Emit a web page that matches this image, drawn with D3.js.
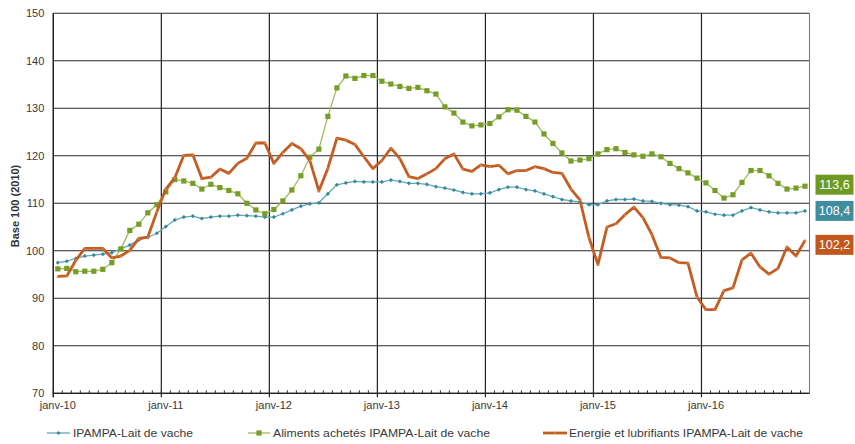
<!DOCTYPE html>
<html>
<head>
<meta charset="utf-8">
<script src="https://cdn.jsdelivr.net/npm/d3@7"></script>
<style>
  html, body { margin: 0; padding: 0; background: #fff; }
  svg { display: block; font-family: "Liberation Sans", Arial, sans-serif; }
</style>
</head>
<body>
<svg id="chart" width="855" height="444"></svg>
<script>
// Monthly categories, janv-10 .. déc-16
const years = ['10', '11', '12', '13', '14', '15', '16'];
const monthNames = ['janv', 'févr', 'mars', 'avr', 'mai', 'juin', 'juil', 'août', 'sept', 'oct', 'nov', 'déc'];
const months = years.flatMap(y => monthNames.map(m => `${m}-${y}`));
const xTickLabels = years.map(y => `janv-${y}`);
const yTicks = [70, 80, 90, 100, 110, 120, 130, 140, 150];

// IPAMPA-Lait de vache (base 100 = 2010)
const ipampa = [
  97.5, 97.8, 98.4, 98.9, 99.1, 99.3, 99.6, 100.4, 101.2, 102.3, 102.8, 103.7,
  105.1, 106.5, 107.1, 107.3, 106.8, 107.1, 107.3, 107.3, 107.5, 107.4, 107.3, 107.1,
  107.1, 107.8, 108.6, 109.4, 109.9, 110.1, 112.0, 113.9, 114.3, 114.6, 114.5, 114.5,
  114.5, 114.9, 114.6, 114.2, 114.2, 114.0, 113.5, 113.2, 112.8, 112.3, 112.0, 112.0,
  112.2, 112.9, 113.4, 113.4, 112.9, 112.6, 112.0, 111.4, 110.8, 110.5, 110.3, 109.7,
  109.7, 110.5, 110.8, 110.8, 110.9, 110.5, 110.4, 110.0, 109.7, 109.6, 109.3, 108.4,
  108.2, 107.7, 107.5, 107.5, 108.4, 109.1, 108.6, 108.2, 108.0, 108.0, 108.0, 108.4
];

// Aliments achetés IPAMPA-Lait de vache
const aliments = [
  96.2, 96.3, 95.6, 95.7, 95.7, 96.1, 97.5, 100.4, 104.3, 105.6, 108.0, 109.7,
  112.4, 115.0, 114.7, 114.2, 113.0, 114.0, 113.3, 112.7, 112.0, 110.0, 108.6, 107.8,
  108.7, 110.5, 112.8, 115.8, 119.7, 121.4, 128.3, 134.3, 136.8, 136.3, 136.9, 136.9,
  135.7, 135.1, 134.6, 134.2, 134.4, 133.7, 133.0, 130.3, 129.0, 127.1, 126.3, 126.5,
  126.8, 128.2, 129.7, 129.6, 128.3, 127.1, 124.6, 122.6, 120.6, 118.9, 119.1, 119.4,
  120.4, 121.3, 121.5, 120.7, 120.2, 119.9, 120.4, 119.8, 118.4, 117.3, 116.4, 115.3,
  114.3, 112.7, 111.1, 111.8, 114.4, 116.9, 116.9, 115.8, 114.2, 113.0, 113.2, 113.6
];

// Energie et lubrifiants IPAMPA-Lait de vache
const energie = [
  94.6, 94.7, 98.0, 100.5, 100.5, 100.5, 98.5, 98.9, 100.1, 102.6, 102.9, 108.2,
  113.0, 115.4, 120.1, 120.2, 115.2, 115.5, 117.2, 116.3, 118.4, 119.5, 122.7, 122.7,
  118.4, 120.7, 122.6, 121.5, 119.0, 112.6, 117.4, 123.7, 123.3, 122.4, 119.8, 117.3,
  119.0, 121.6, 119.4, 115.6, 115.2, 116.2, 117.3, 119.4, 120.4, 117.2, 116.7, 118.1,
  117.7, 118.0, 116.2, 116.9, 116.9, 117.7, 117.3, 116.5, 116.3, 113.0, 110.7, 102.8,
  97.1, 105.0, 105.7, 107.6, 109.2, 107.0, 103.4, 98.6, 98.5, 97.5, 97.4, 90.3,
  87.6, 87.6, 91.6, 92.2, 98.1, 99.5, 96.6, 95.1, 96.3, 100.8, 98.9, 102.2
];

const seriesNames = [
  'IPAMPA-Lait de vache',
  'Aliments achetés IPAMPA-Lait de vache',
  'Energie et lubrifiants IPAMPA-Lait de vache'
];

const series = [
  { name: seriesNames[0], values: ipampa,   line: '#62a9bb', mark: '#3b8899', width: 1.3, marker: 'diamond',  size: 4.2, box: '#3f8d9f' },
  { name: seriesNames[1], values: aliments, line: '#9dbb5f', mark: '#779d27', width: 1.3, marker: 'square',   size: 5.2, box: '#6f9a22' },
  { name: seriesNames[2], values: energie,  line: '#c45d22', mark: '#d77d44', width: 2.8, marker: 'triangle', size: 3.0, box: '#c2571d' }
];

const svg = d3.select('#chart');
const plotLeft = 53.3, plotRight = 809.5, plotTop = 13.3, plotBottom = 393.3;

const x = d3.scaleBand().domain(months).range([plotLeft, plotRight]).padding(0);
const y = d3.scaleLinear().domain([70, 150]).range([plotBottom, plotTop]);
const cx = m => x(m) + x.bandwidth() / 2;

// horizontal gridlines
svg.append('g').selectAll('line').data(yTicks).join('line')
  .attr('x1', plotLeft).attr('x2', plotRight)
  .attr('y1', d => y(d)).attr('y2', d => y(d))
  .attr('stroke', '#2a2a2a').attr('stroke-width', 1.1);

// vertical gridlines at each year start, extending slightly below the axis
svg.append('g').selectAll('line').data(xTickLabels).join('line')
  .attr('x1', d => x(d)).attr('x2', d => x(d))
  .attr('y1', plotTop).attr('y2', plotBottom + 4)
  .attr('stroke', '#222').attr('stroke-width', 1.2);

// right border
svg.append('line').attr('x1', plotRight).attr('x2', plotRight).attr('y1', plotTop).attr('y2', plotBottom)
  .attr('stroke', '#777').attr('stroke-width', 1);

// monthly minor ticks on the category axis
svg.append('g').selectAll('line').data(months).join('line')
  .attr('x1', d => x(d)).attr('x2', d => x(d))
  .attr('y1', plotBottom - 3).attr('y2', plotBottom)
  .attr('stroke', '#333').attr('stroke-width', 1);

// axis lines
svg.append('line').attr('x1', plotLeft).attr('x2', plotLeft).attr('y1', plotTop).attr('y2', plotBottom + 4)
  .attr('stroke', '#222').attr('stroke-width', 1.2);
svg.append('line').attr('x1', plotLeft).attr('x2', plotRight).attr('y1', plotBottom).attr('y2', plotBottom)
  .attr('stroke', '#222').attr('stroke-width', 1.2);

// axis labels
const yAxis = svg.append('g').attr('transform', `translate(${plotLeft},0)`)
  .call(d3.axisLeft(y).tickValues(yTicks).tickSize(0).tickPadding(9).tickFormat(d3.format('d')));
yAxis.select('.domain').remove();
yAxis.selectAll('text').attr('font-size', 11).attr('fill', '#3a3a3a')
  .attr('font-family', '"Liberation Sans", Arial, sans-serif');

const xAxis = svg.append('g').attr('transform', `translate(0,${plotBottom})`)
  .call(d3.axisBottom(x).tickValues(xTickLabels).tickSize(0).tickPadding(8));
xAxis.select('.domain').remove();
xAxis.selectAll('text').attr('font-size', 11).attr('fill', '#3a3a3a')
  .attr('font-family', '"Liberation Sans", Arial, sans-serif');

// y axis title
svg.append('text')
  .attr('transform', `translate(19,206) rotate(-90)`)
  .attr('text-anchor', 'middle')
  .attr('font-size', 11).attr('font-weight', 'bold').attr('fill', '#333')
  .text('Base 100 (2010)');

// marker shapes
function markerPath(type, s) {
  const h = s / 2;
  if (type === 'diamond') return `M0,${-h}L${h},0L0,${h}L${-h},0Z`;
  if (type === 'square') return `M${-h},${-h}H${h}V${h}H${-h}Z`;
  return `M0,${-h}L${h},${h * 0.8}L${-h},${h * 0.8}Z`;
}

const line = d3.line().x((d, i) => cx(months[i])).y(d => y(d));

series.forEach(s => {
  const g = svg.append('g');
  g.append('path').attr('d', line(s.values))
    .attr('fill', 'none').attr('stroke', s.line).attr('stroke-width', s.width)
    .attr('stroke-linejoin', 'round');
  g.selectAll('path.m').data(s.values).join('path').attr('class', 'm')
    .attr('transform', (d, i) => `translate(${cx(months[i])},${y(d)})`)
    .attr('d', markerPath(s.marker, s.size))
    .attr('fill', s.mark);
});

// end-of-series value labels
const fmt = v => d3.format('.1f')(v).replace('.', ',');
const nudges = [0, -1.5, 4.5];
series.forEach((s, k) => {
  const v = s.values[s.values.length - 1];
  const yc = y(v) + nudges[k];
  const g = svg.append('g').attr('transform', `translate(834.5,${yc})`);
  g.append('rect').attr('x', -19).attr('y', -10).attr('width', 38).attr('height', 20)
    .attr('fill', s.box);
  g.append('text').attr('text-anchor', 'middle').attr('dy', '0.36em')
    .attr('font-size', 12.5).attr('fill', '#fff')
    .text(fmt(v));
});

// legend
const legendItems = [
  { x0: 47, x1: 70, tx: 73, w: 120 },
  { x0: 248, x1: 270, tx: 273, w: 217 },
  { x0: 543, x1: 567, tx: 569, w: 234 }
];
const ly = 433;
series.forEach((s, k) => {
  const it = legendItems[k];
  const g = svg.append('g');
  g.append('line').attr('x1', it.x0).attr('x2', it.x1).attr('y1', ly).attr('y2', ly)
    .attr('stroke', s.line).attr('stroke-width', s.width);
  g.append('path').attr('transform', `translate(${(it.x0 + it.x1) / 2},${ly})`)
    .attr('d', markerPath(s.marker, s.size)).attr('fill', s.mark);
  g.append('text').attr('x', it.tx).attr('y', ly).attr('dy', '0.35em')
    .attr('font-size', 11.5).attr('fill', '#3a3a3a')
    .attr('textLength', it.w).attr('lengthAdjust', 'spacingAndGlyphs')
    .text(s.name);
});
</script>
</body>
</html>
